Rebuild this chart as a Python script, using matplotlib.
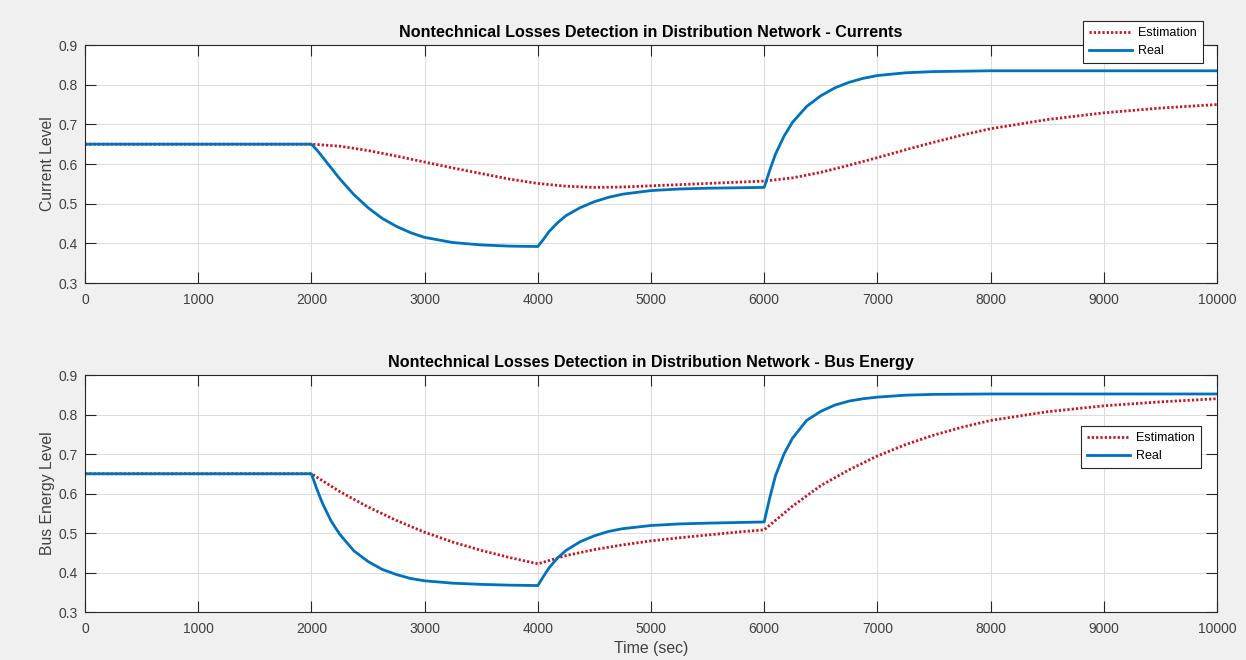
import matplotlib.pyplot as plt

plt.rcParams['font.family'] = ['Liberation Sans', 'DejaVu Sans']

# time points (sec)
t_top = [0, 1000, 2000, 2050, 2100, 2175, 2250, 2375, 2500, 2625, 2750, 2875, 3000, 3250, 3500, 3750, 4000,
         4050, 4100, 4175, 4250, 4375, 4500, 4625, 4750, 5000, 5250, 5500, 6000,
         6050, 6100, 6175, 6250, 6375, 6500, 6625, 6750, 6875, 7000, 7250, 7500, 8000, 9000, 10000]
real_current = [0.65, 0.65, 0.65, 0.635, 0.617, 0.59, 0.563, 0.523, 0.49, 0.463, 0.443, 0.427, 0.415, 0.402, 0.396, 0.393, 0.392,
                0.41, 0.43, 0.452, 0.47, 0.49, 0.505, 0.516, 0.524, 0.533, 0.537, 0.539, 0.541,
                0.585, 0.625, 0.67, 0.705, 0.745, 0.772, 0.792, 0.806, 0.816, 0.823, 0.83, 0.833, 0.835, 0.835, 0.835]

t_est = [0, 1000, 2000, 2250, 2500, 2750, 3000, 3250, 3500, 3750, 4000, 4250, 4500, 4750, 5000, 5250, 5500, 5750, 6000,
         6250, 6500, 6750, 7000, 7250, 7500, 7750, 8000, 8500, 9000, 9500, 10000]
est_current = [0.65, 0.65, 0.65, 0.645, 0.634, 0.62, 0.605, 0.59, 0.576, 0.562, 0.551, 0.544, 0.541, 0.542, 0.545, 0.548, 0.551, 0.554, 0.557,
               0.565, 0.579, 0.597, 0.616, 0.636, 0.655, 0.673, 0.689, 0.712, 0.729, 0.741, 0.75]

real_energy = [0.65, 0.65, 0.65, 0.61, 0.574, 0.53, 0.497, 0.455, 0.428, 0.408, 0.395, 0.385, 0.379, 0.373, 0.37, 0.368, 0.367,
               0.39, 0.412, 0.437, 0.456, 0.478, 0.493, 0.504, 0.511, 0.519, 0.523, 0.525, 0.528,
               0.59, 0.645, 0.7, 0.74, 0.785, 0.808, 0.824, 0.834, 0.84, 0.844, 0.849, 0.851, 0.852, 0.852, 0.852]
est_energy = [0.65, 0.65, 0.65, 0.605, 0.566, 0.532, 0.502, 0.477, 0.456, 0.438, 0.422, 0.443, 0.458, 0.47, 0.48, 0.488, 0.495, 0.502, 0.508,
              0.568, 0.62, 0.66, 0.695, 0.724, 0.748, 0.768, 0.785, 0.807, 0.822, 0.832, 0.84]

titles = ['Nontechnical Losses Detection in Distribution Network - Currents',
          'Nontechnical Losses Detection in Distribution Network - Bus Energy']
ylabels = ['Current Level', 'Bus Energy Level']

blue = '#0072BD'
red = '#cc1420'
txt = '#404040'

fig = plt.figure(figsize=(12.46, 6.6), dpi=100, facecolor='#f0f0f0')
ax1 = fig.add_axes([0.0682, 0.5712, 0.9085, 0.3606])
ax2 = fig.add_axes([0.0682, 0.0727, 0.9085, 0.3591])

legend_anchor = [(1203 / 1246, 1 - 21 / 660), (1201 / 1246, 1 - 426 / 660)]

for i, (ax, est, real) in enumerate([(ax1, est_current, real_current), (ax2, est_energy, real_energy)]):
    ax.plot(t_est, est, linestyle=(0, (0.8, 0.75)), color=red, linewidth=2.0, label='Estimation')
    ax.plot(t_top, real, color=blue, linewidth=2.0, label='Real')
    ax.set_xlim(0, 10000)
    ax.set_ylim(0.3, 0.9)
    ax.set_xticks(range(0, 10001, 1000))
    ax.set_yticks([0.3, 0.4, 0.5, 0.6, 0.7, 0.8, 0.9])
    ax.set_yticklabels(['0.3', '0.4', '0.5', '0.6', '0.7', '0.8', '0.9'])
    ax.grid(True, color='#dcdcdc', linewidth=0.7)
    ax.tick_params(direction='in', length=8, width=0.8, color='#262626', labelcolor=txt,
                   labelsize=10, top=True, right=True)
    ax.tick_params(axis='x', pad=7.5)
    ax.tick_params(axis='y', pad=5)
    for s in ax.spines.values():
        s.set_color('#262626')
        s.set_linewidth(0.8)
    ax.set_title(titles[i], fontsize=11.6, fontweight='bold', pad=6)
    ax.set_ylabel(ylabels[i], fontsize=11.3, color=txt, labelpad=3)
    leg = ax.legend(loc='upper right', bbox_to_anchor=legend_anchor[i], bbox_transform=fig.transFigure,
                    fontsize=9, fancybox=False, framealpha=1, edgecolor='#262626',
                    handlelength=3.4, borderpad=0.5, labelspacing=0.45, handletextpad=0.5,
                    borderaxespad=0)
    leg.get_frame().set_linewidth(0.8)
    leg.set_zorder(10)

ax2.set_xlabel('Time (sec)', fontsize=11.4, color=txt, labelpad=3)

fig.savefig('out.png', dpi=100, facecolor=fig.get_facecolor())
